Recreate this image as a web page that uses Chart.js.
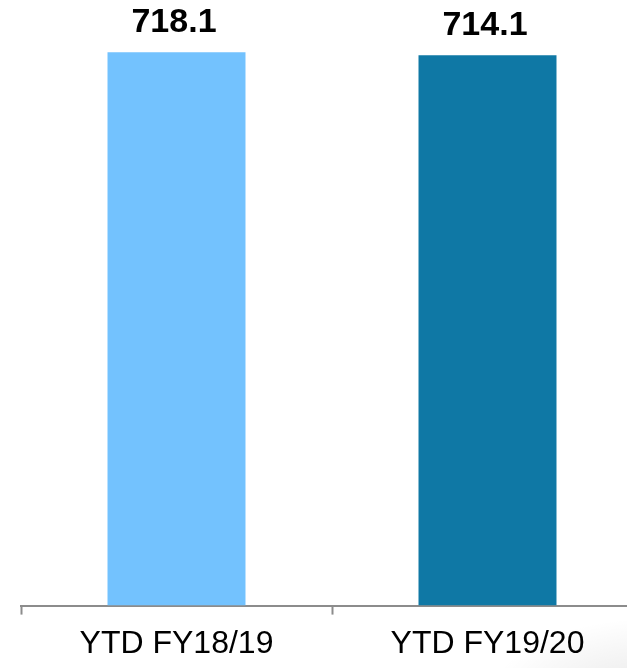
<!DOCTYPE html>
<html>
<head>
<meta charset="utf-8">
<script src="https://cdn.jsdelivr.net/npm/chart.js@4.4.1/dist/chart.umd.min.js"></script>
<style>
  html, body { margin: 0; padding: 0; background: #fff; }
  #wrap { position: relative; width: 627px; height: 668px; overflow: hidden; }
  #shade {
    position: absolute; left: 470px; top: 610px; width: 260px; height: 120px;
    background: radial-gradient(ellipse at 70% 80%, rgba(0,0,0,0.10), rgba(0,0,0,0) 65%);
  }
  #chartBox { position: absolute; left: 0; top: 0; width: 660px; height: 680px; }
</style>
</head>
<body>
<div id="wrap">
  <div id="shade"></div>
  <div id="chartBox"><canvas id="ytdChart" width="660" height="680"></canvas></div>
</div>
<script>
// periods and totals
const periods = ['YTD FY18/19', 'YTD FY19/20'];
const totals = [718.1, 714.1];
const barColors = ['#73C2FE', '#0F78A5'];

// writes each total above its bar
const valueLabels = {
    id: 'valueLabels',
    afterDatasetsDraw: function(chart) {
        const ctx = chart.ctx;
        const meta = chart.getDatasetMeta(0);
        ctx.save();
        ctx.font = 'bold 34px "Liberation Sans", Arial, sans-serif';
        ctx.fillStyle = '#000';
        ctx.textAlign = 'center';
        ctx.textBaseline = 'alphabetic';
        meta.data.forEach(function(bar, i) {
            ctx.fillText(totals[i].toFixed(1), bar.x - 2.5, bar.y - 20);
        });
        ctx.restore();
    }
};

const ctx = document.getElementById('ytdChart').getContext('2d');
const ytdChart = new Chart(ctx, {
    type: 'bar',
    data: {
        labels: periods,
        datasets: [{
            data: totals,
            backgroundColor: barColors,
            borderWidth: 0,
            barPercentage: 0.4437,
            categoryPercentage: 1.0
        }]
    },
    options: {
        responsive: false,
        animation: false,
        layout: { padding: { left: 21, right: 17, top: 20, bottom: 7 } },
        plugins: {
            legend: { display: false },
            tooltip: { enabled: false }
        },
        scales: {
            y: {
                display: false,
                min: 0,
                max: 760
            },
            x: {
                offset: true,
                border: { display: true, color: '#8c8c8c', width: 2 },
                grid: {
                    display: true,
                    offset: true,
                    drawOnChartArea: false,
                    drawTicks: true,
                    tickLength: 9,
                    tickWidth: 2,
                    tickColor: '#8c8c8c'
                },
                ticks: {
                    color: '#000',
                    padding: 10,
                    font: { family: '"Liberation Sans", Arial, sans-serif', size: 32, lineHeight: 1.2 }
                }
            }
        }
    },
    plugins: [valueLabels]
});
</script>
</body>
</html>
